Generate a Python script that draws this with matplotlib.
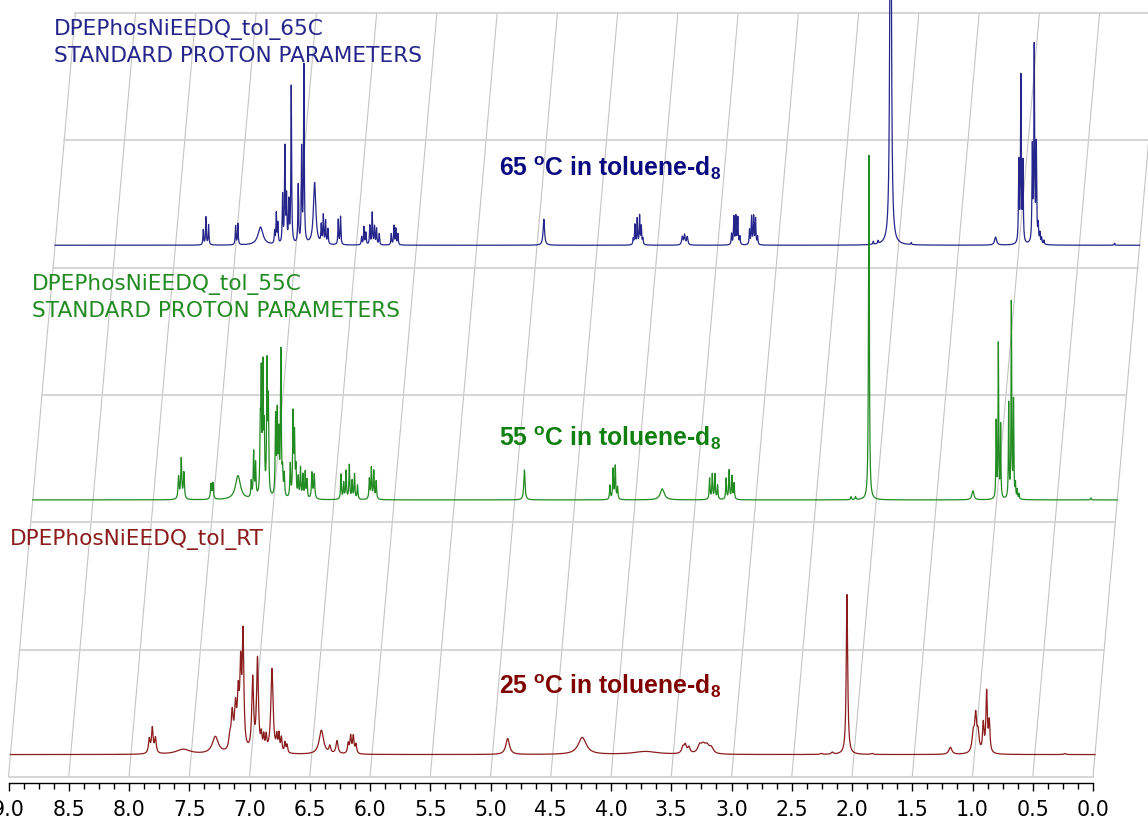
import numpy as np
import matplotlib.pyplot as plt
from matplotlib.ticker import FixedLocator, FormatStrFormatter

plt.rcParams['mathtext.fontset'] = 'custom'
plt.rcParams['mathtext.rm'] = 'Liberation Sans:bold'
plt.rcParams['mathtext.it'] = 'Liberation Sans:bold'
plt.rcParams['mathtext.bf'] = 'Liberation Sans:bold'

# peak tables: (shift ppm, intensity, half width ppm)
peaks_rt = [
    (7.848, 14, .008), (7.823, 25, .008), (7.797, 15, .008),
    (7.566, 5, .07), (7.300, 17, .03),
    (7.180, 12, .01), (7.160, 35, .01), (7.133, 40, .01), (7.110, 50, .009),
    (7.090, 75, .008), (7.070, 112, .008),
    (6.990, 72, .009), (6.950, 92, .009),
    (6.918, 14, .006), (6.898, 14, .006), (6.878, 14, .006),
    (6.830, 84, .011),
    (6.790, 14, .006), (6.772, 17, .006), (6.752, 14, .006), (6.722, 10, .006), (6.705, 8, .006),
    (6.420, 24, .022), (6.350, 7, .008), (6.290, 13, .01),
    (6.197, 10, .007), (6.177, 17, .007), (6.155, 17, .007), (6.133, 9, .007),
    (4.874, 16, .018), (4.255, 17, .04), (3.730, 3, .12),
    (3.420, 6, .012), (3.400, 8, .012), (3.370, 6, .012),
    (3.280, 8, .02), (3.250, 7, .02), (3.220, 7, .02), (3.185, 6, .02),
    (2.270, 1, .01), (2.180, 2, .01), (2.058, 160, .007), (1.850, 1, .01),
    (1.200, 7, .015),
    (1.010, 18, .012), (0.990, 35, .010), (0.970, 18, .010),
    (0.927, 28, .007), (0.899, 60, .007), (0.877, 30, .007),
    (0.250, 1, .01),
]

peaks_55 = [
    (7.790, 22, .005), (7.768, 40, .005), (7.746, 26, .005),
    (7.521, 15, .005), (7.505, 16, .005),
    (7.297, 24, .025),
    (7.187, 16, .004), (7.167, 45, .004), (7.151, 33, .004),
    (7.112, 60, .004), (7.104, 112, .004), (7.090, 122, .004), (7.079, 60, .004),
    (7.056, 128, .004), (7.045, 90, .004),
    (6.985, 78, .004), (6.971, 80, .004), (6.958, 58, .004), (6.941, 145, .004),
    (6.927, 22, .004), (6.913, 22, .004),
    (6.863, 33, .004), (6.840, 82, .004), (6.828, 60, .004),
    (6.816, 28, .004), (6.797, 20, .004), (6.778, 30, .004), (6.758, 23, .004),
    (6.739, 26, .004), (6.724, 18, .004),
    (6.683, 26, .005), (6.664, 24, .005),
    (6.442, 25, .004), (6.420, 16, .004), (6.400, 28, .004), (6.373, 34, .004),
    (6.350, 18, .004), (6.330, 25, .004), (6.305, 14, .004),
    (6.207, 20, .004), (6.190, 31, .004), (6.170, 28, .004), (6.150, 18, .004),
    (4.920, 30, .006),
    (4.210, 14, .004), (4.184, 30, .004), (4.166, 33, .004), (4.147, 12, .004),
    (3.776, 11, .02),
    (3.383, 21, .004), (3.361, 25, .004), (3.339, 25, .004), (3.317, 14, .004),
    (3.246, 21, .004), (3.221, 29, .004), (3.198, 23, .004), (3.180, 16, .004),
    (2.209, 3, .004), (2.172, 3, .004),
    (2.061, 345, .004),
    (1.198, 9, .01),
    (1.005, 76, .003), (0.987, 154, .003), (0.968, 73, .003),
    (0.901, 95, .003), (0.879, 195, .003), (0.861, 96, .003),
    (0.845, 14, .003), (0.830, 9, .003), (0.815, 5, .003),
    (0.220, 2, .004),
]

peaks_65 = [
    (7.770, 15, .0035), (7.748, 28, .0035), (7.726, 20, .0035),
    (7.502, 19, .0035), (7.483, 21, .0035),
    (7.295, 18, .025),
    (7.178, 12, .0035), (7.164, 30, .0035), (7.151, 20, .0035),
    (7.112, 48, .0035), (7.093, 95, .0035), (7.079, 45, .0035), (7.060, 40, .0035),
    (7.040, 158, .0035),
    (6.982, 58, .0035), (6.954, 93, .0035), (6.935, 178, .0035),
    (6.846, 62, .012),
    (6.791, 18, .0035), (6.774, 28, .0035), (6.755, 23, .0035), (6.736, 15, .0035),
    (6.650, 25, .0035), (6.631, 28, .0035),
    (6.456, 8, .0035), (6.437, 18, .0035), (6.421, 12, .0035), (6.388, 19, .0035),
    (6.368, 32, .0035), (6.349, 18, .0035), (6.332, 16, .0035), (6.310, 11, .0035),
    (6.210, 11, .0035), (6.188, 19, .0035), (6.172, 16, .0035), (6.155, 11, .0035),
    (4.944, 26, .007),
    (4.202, 6, .0035), (4.188, 20, .0035), (4.169, 26, .0035), (4.149, 29, .0035),
    (4.135, 18, .0035), (4.122, 6, .0035),
    (3.795, 8, .006), (3.776, 10, .006), (3.754, 8, .006),
    (3.386, 11, .0035), (3.367, 28, .0035), (3.350, 28, .0035), (3.334, 27, .0035),
    (3.317, 8, .0035),
    (3.237, 15, .0035), (3.220, 28, .0035), (3.203, 28, .0035), (3.187, 26, .0035),
    (3.170, 8, .0035),
    (2.210, 3, .0035), (2.170, 3, .0035),
    (2.066, 600, .006),
    (1.895, 2, .0035),
    (1.195, 8, .01),
    (1.002, 80, .0035), (0.985, 166, .0035), (0.968, 79, .0035),
    (0.890, 93, .0035), (0.874, 195, .0035), (0.857, 96, .0035), (0.841, 17, .0035),
    (0.827, 10, .0035), (0.813, 6, .0035), (0.794, 4, .0035),
    (0.207, 2, .0035),
]

names = ['DPEPhosNiEEDQ_tol_RT', 'DPEPhosNiEEDQ_tol_55C', 'DPEPhosNiEEDQ_tol_65C']
temps = ['25', '55', '65']
line_colors = ['#8b1c1c', '#228b22', '#25258c']
text_colors = ['#800000', '#108010', '#0a0a80']

# layout (pixels of the 1148x819 picture)
PX_PPM = 120.5          # pixels per ppm
PLANE = 254.67          # pixels per stacked plane
SKEW = 22.3 / PX_PPM    # ppm the plane shifts to the right per plane
BASE = 0.088            # baseline height inside a plane

fig = plt.figure(figsize=(11.48, 8.19), dpi=100)
ax = fig.add_axes([0, 36 / 819, 1, 783 / 819])
ax.set_xlim(1093 / PX_PPM, (1093 - 1148) / PX_PPM)
ax.set_ylim(-6 / PLANE, 777 / PLANE)

# slanted grid
for p in np.arange(0, 9.01, 0.5):
    ax.plot([p, p - 3 * SKEW], [0, 3], color='#c4c4c4', lw=0.8, zorder=1)
for y in np.arange(0, 3.01, 0.5):
    ax.plot([9 - SKEW * y, -SKEW * y], [y, y], color='#d2d2d2', lw=1.3, zorder=1)

x = np.linspace(9.0, 0.0, 15000)


def spectrum(peaks):
    p = np.array(peaks)
    d = (x[None, :] - p[:, 0:1]) / p[:, 2:3]
    return (p[:, 1:2] / (1 + d ** 2)).sum(axis=0)


for k, peaks in enumerate([peaks_rt, peaks_55, peaks_65]):
    y0 = k + BASE
    ax.plot(x - SKEW * y0, y0 + spectrum(peaks) / PLANE,
            color=line_colors[k], lw=0.9, zorder=4 - k)

# sample names
name_pos = [(10, [545]), (32, [290, 317]), (54, [35, 62])]
for k, (px, ys) in enumerate(name_pos):
    lines = [names[k]] if k == 0 else [names[k], 'STANDARD PROTON PARAMETERS']
    for s, ypx in zip(lines, ys):
        ax.text((1093 - px) / PX_PPM, (777 - ypx) / PLANE, s, color=line_colors[k],
                fontsize=15.6, family='DejaVu Sans', va='baseline', ha='left', zorder=6)

# temperature labels
label_y = [694, 446, 176]
for k in range(3):
    ax.text((1093 - 499) / PX_PPM, (777 - label_y[k]) / PLANE,
            temps[k] + r' $^{\mathrm{o}}$C in toluene-d$_{8}$',
            color=text_colors[k], fontsize=17.8, family='Liberation Sans',
            fontweight='bold', va='baseline', ha='left', zorder=6)

# axis
for s in ['left', 'right', 'top']:
    ax.spines[s].set_visible(False)
ax.spines['bottom'].set_bounds(0, 9)
ax.spines['bottom'].set_linewidth(1.0)
ax.set_yticks([])
ax.xaxis.set_major_locator(FixedLocator(np.arange(0, 9.01, 0.5)))
ax.xaxis.set_minor_locator(FixedLocator(np.arange(0, 9.01, 0.125)))
ax.xaxis.set_major_formatter(FormatStrFormatter('%.1f'))
ax.tick_params(axis='x', which='major', length=6, width=1, labelsize=14.8, pad=6)
ax.tick_params(axis='x', which='minor', length=4, width=1)
ax.patch.set_visible(False)

fig.savefig('out.png', dpi=100)
